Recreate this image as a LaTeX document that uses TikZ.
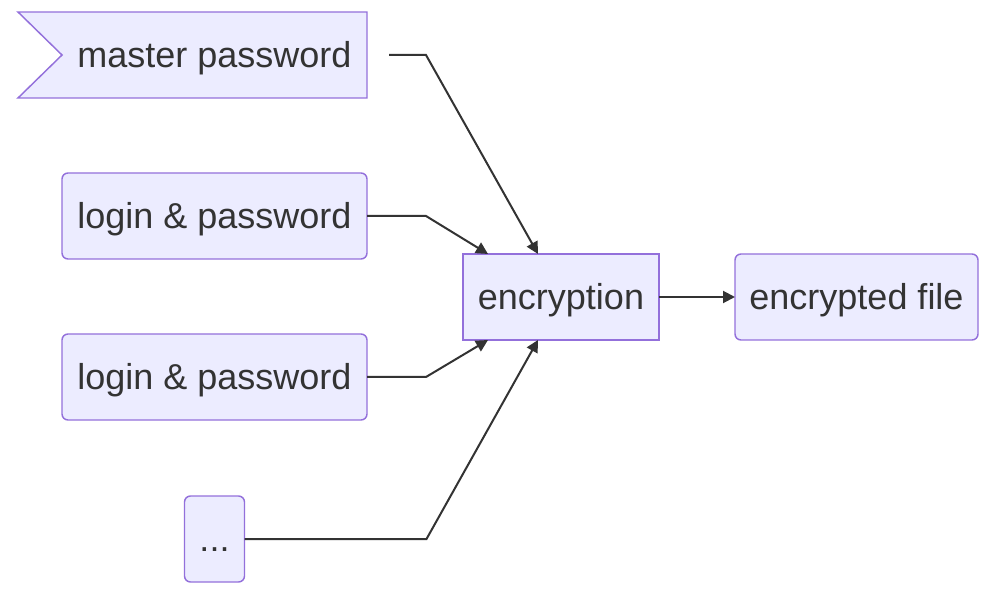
\documentclass[tikz,border=0pt]{standalone}
\usepackage{fontspec}
\setmainfont{Liberation Sans}
\usetikzlibrary{positioning,arrows.meta,calc}

\definecolor{boxfill}{HTML}{ECECFF}
\definecolor{boxline}{HTML}{9370DB}
\definecolor{ink}{HTML}{333333}

\begin{document}
\begin{tikzpicture}[
  x=0.75pt, y=-0.75pt,
  node distance=56.25pt,
  font=\fontsize{27}{32}\selectfont,
  box/.style={draw=boxline, fill=boxfill, line width=1.1pt, text=ink, minimum height=64.5pt,
    inner sep=0pt, outer sep=0pt, text height=24.5pt, text depth=6pt},
  roundbox/.style={box, rounded corners=4.5pt},
  edge/.style={draw=ink, line width=1.5pt, -{Triangle[length=9pt, width=9pt]}}
]
\useasboundingbox (0,0) rectangle (1001,599);

% sources on the left
\node[box, draw=none, fill=none, minimum width=228.75pt] (master) at (214.5,55) {};
\draw[box] ($(master.north west)+(-44,0)$) -- (master.north east) -- (master.south east)
  -- ($(master.south west)+(-44,0)$) -- (master.west) -- cycle;
\node[text=ink, text height=24.5pt, text depth=6pt] at (master) {master password};
\node[roundbox, minimum width=228.75pt, below=of master] (login1) {login \& password};
\node[roundbox, minimum width=228.75pt, below=of login1] (login2) {login \& password};
\node[roundbox, minimum width=45pt, below=57pt of login2] (dots) {...};

% encryption and result
\node[box, minimum width=147pt] (enc) at (561,297) {encryption};
\node[roundbox, minimum width=182.25pt, right=57pt of enc] (file) {encrypted file};

\draw[edge] ($(master.east)+(22,0)$) -- ($(master.east)+(59,0)$) -- ($(enc.north)+(-23,0)$);
\draw[edge] (login1.east) -- ++(59,0) -- ($(enc.north)+(-73,0)$);
\draw[edge] (login2.east) -- ++(59,0) -- ($(enc.south)+(-73,0)$);
\draw[edge] (dots.east) -- ++(182,0) -- ($(enc.south)+(-23,0)$);
\draw[edge] (enc) -- (file);
\end{tikzpicture}
\end{document}
